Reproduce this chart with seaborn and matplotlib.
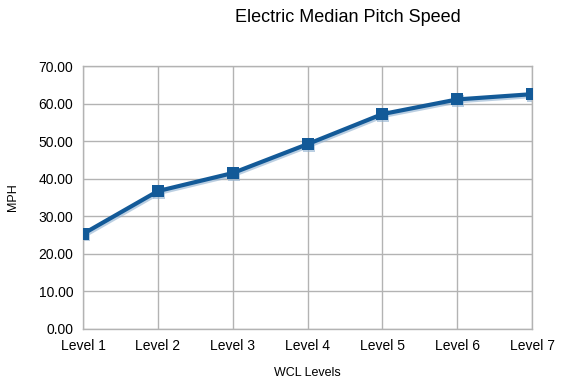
import matplotlib
matplotlib.use("Agg")
import matplotlib.pyplot as plt
import seaborn as sns
import pandas as pd

categories = ["Level 1", "Level 2", "Level 3", "Level 4", "Level 5", "Level 6", "Level 7"]
speeds = [25.3, 36.7, 41.5, 49.2, 57.2, 61.1, 62.5]

df = pd.DataFrame({"level": categories, "pos": range(len(categories)), "mph": speeds})

sns.set_style("white")
plt.rcParams["font.family"] = ["Liberation Sans", "DejaVu Sans"]
plt.rcParams["text.color"] = "black"
plt.rcParams["axes.labelcolor"] = "black"

fig = plt.figure(figsize=(5.65, 3.86), dpi=100)
ax = fig.add_axes([83/565, 1-329/386, (532-83)/565, (329-66)/386])

# subtle shadow
sns.lineplot(data=df, x="pos", y="mph", ax=ax, color="#8fb0cf", lw=3.5,
             marker="s", markersize=9, markeredgewidth=0, alpha=0.6, zorder=2,
             transform=ax.transData + matplotlib.transforms.ScaledTranslation(1/100, -1.5/100, fig.dpi_scale_trans))
sns.lineplot(data=df, x="pos", y="mph", ax=ax, color="#135a98", lw=3,
             marker="s", markersize=9, markeredgewidth=0, zorder=3)

ax.set_xlim(0, len(categories)-1)
ax.set_ylim(0, 70)
ax.set_xticks(range(len(categories)))
ax.set_xticklabels(categories)
ax.set_yticks(range(0, 71, 10))
ax.set_yticklabels([f"{v:.2f}" for v in range(0, 71, 10)])
ax.grid(True, color="#b3b3b3", lw=1)
ax.set_axisbelow(True)
for s in ax.spines.values():
    s.set_color("#b3b3b3")
    s.set_linewidth(1)
ax.tick_params(axis="both", length=5, color="#b3b3b3", labelsize=10, labelcolor="black", pad=2)
ax.set_xlabel("WCL Levels", fontsize=9, labelpad=10, color="black")
ax.set_ylabel("MPH", fontsize=9, labelpad=14, color="black")
fig.text(348/565, 1-18/386, "Electric Median Pitch Speed", ha="center", va="center", fontsize=13, color="black")

fig.savefig("out.png", dpi=100)
